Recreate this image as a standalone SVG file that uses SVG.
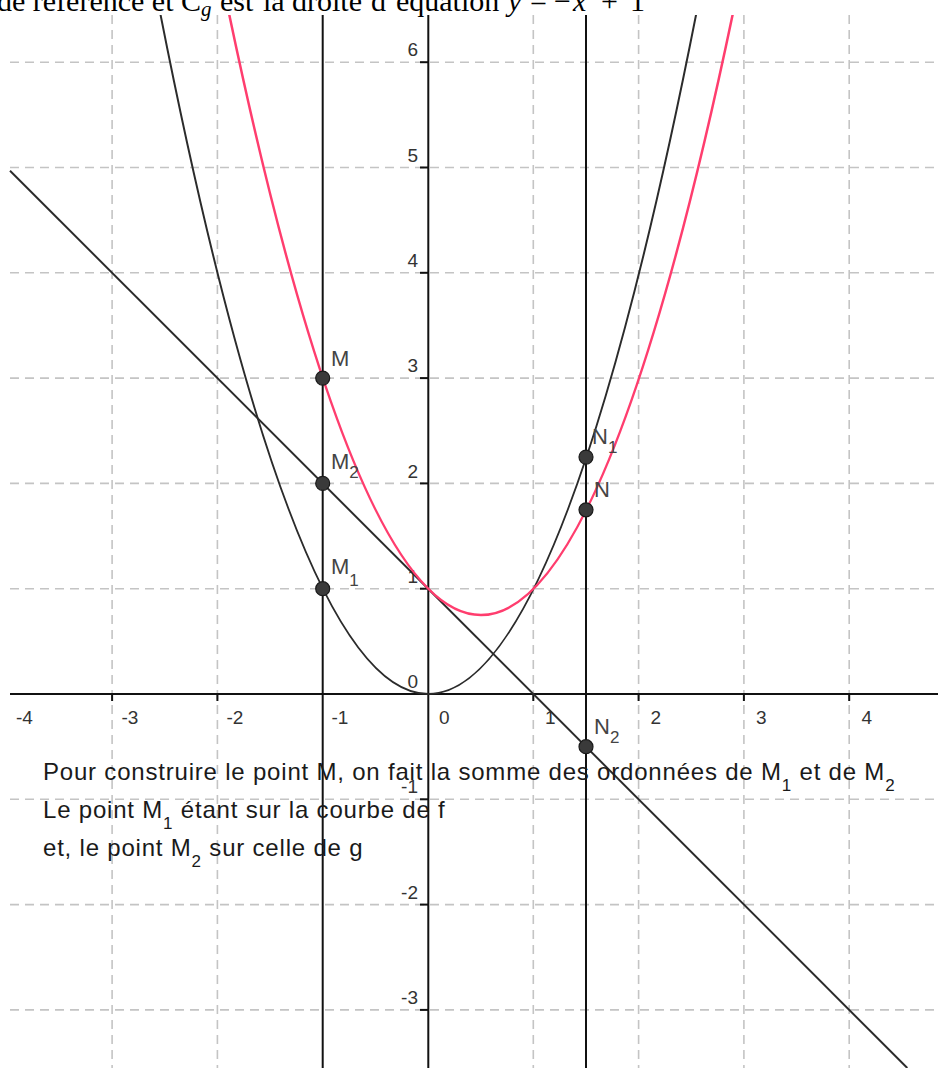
<svg xmlns="http://www.w3.org/2000/svg" width="938" height="1068" viewBox="0 0 938 1068">
<defs>
<style>
.grid{stroke:#c4c4c4;stroke-width:1.6;stroke-dasharray:9 6;fill:none}
.axis{stroke:#111;stroke-width:2;fill:none}
.tick{stroke:#111;stroke-width:2}
.curve{stroke:#2b2b2b;stroke-width:2;fill:none}
.pink{stroke:#ff3d6e;stroke-width:2.5;fill:none}
.vline{stroke:#111;stroke-width:2;fill:none}
.pt{fill:#3a3a3a;stroke:#1a1a1a;stroke-width:1.2}
.ax{font-family:"Liberation Sans",Arial,sans-serif;font-size:19px;fill:#333}
.axl{font-family:"Liberation Sans",Arial,sans-serif;font-size:19px;fill:#333;text-anchor:end}
.lbl{font-family:"Liberation Sans",Arial,sans-serif;font-size:22px;fill:#444}
.sub{font-size:17px}
.body{font-family:"Liberation Sans",Arial,sans-serif;font-size:24px;fill:#1a1a1a;letter-spacing:0.8px}
.title{font-family:"Liberation Serif","Times New Roman",serif;font-size:30px;fill:#000}
.it{font-style:italic}
</style>
<clipPath id="plot"><rect x="0" y="15" width="938" height="1053"/></clipPath>
</defs>
<rect width="938" height="1068" fill="#fff"/>

<g id="grid" class="grid">
<line x1="10" y1="62.2" x2="938" y2="62.2"/>
<line x1="10" y1="167.5" x2="938" y2="167.5"/>
<line x1="10" y1="272.8" x2="938" y2="272.8"/>
<line x1="10" y1="378.1" x2="938" y2="378.1"/>
<line x1="10" y1="483.4" x2="938" y2="483.4"/>
<line x1="10" y1="588.7" x2="938" y2="588.7"/>
<line x1="10" y1="799.3" x2="938" y2="799.3"/>
<line x1="10" y1="904.6" x2="938" y2="904.6"/>
<line x1="10" y1="1009.9" x2="938" y2="1009.9"/>
<line x1="112.1" y1="15" x2="112.1" y2="1068"/>
<line x1="217.4" y1="15" x2="217.4" y2="1068"/>
<line x1="533.3" y1="15" x2="533.3" y2="1068"/>
<line x1="638.6" y1="15" x2="638.6" y2="1068"/>
<line x1="743.9" y1="15" x2="743.9" y2="1068"/>
<line x1="849.2" y1="15" x2="849.2" y2="1068"/>
</g>

<g id="axes">
<line class="axis" x1="10" y1="694" x2="938" y2="694"/>
<line class="axis" x1="428.3" y1="15" x2="428.3" y2="1068"/>
<g class="tick">
<line x1="112.1" y1="694" x2="112.1" y2="701"/>
<line x1="217.4" y1="694" x2="217.4" y2="701"/>
<line x1="533.3" y1="694" x2="533.3" y2="701"/>
<line x1="638.6" y1="694" x2="638.6" y2="701"/>
<line x1="743.9" y1="694" x2="743.9" y2="701"/>
<line x1="849.2" y1="694" x2="849.2" y2="701"/>
<line x1="420" y1="62.2" x2="428" y2="62.2"/>
<line x1="420" y1="167.5" x2="428" y2="167.5"/>
<line x1="420" y1="272.8" x2="428" y2="272.8"/>
<line x1="420" y1="378.1" x2="428" y2="378.1"/>
<line x1="420" y1="483.4" x2="428" y2="483.4"/>
<line x1="420" y1="588.7" x2="428" y2="588.7"/>
<line x1="420" y1="799.3" x2="428" y2="799.3"/>
<line x1="420" y1="904.6" x2="428" y2="904.6"/>
<line x1="420" y1="1009.9" x2="428" y2="1009.9"/>
</g>
<text class="ax" x="16" y="724">-4</text>
<text class="ax" x="121.5" y="724">-3</text>
<text class="ax" x="226.5" y="724">-2</text>
<text class="ax" x="331.5" y="724">-1</text>
<text class="ax" x="439" y="724">0</text>
<text class="ax" x="545" y="724">1</text>
<text class="ax" x="650.5" y="724">2</text>
<text class="ax" x="756" y="724">3</text>
<text class="ax" x="861.5" y="724">4</text>
<text class="axl" x="418" y="56">6</text>
<text class="axl" x="418" y="161.5">5</text>
<text class="axl" x="418" y="267">4</text>
<text class="axl" x="418" y="372">3</text>
<text class="axl" x="418" y="477.5">2</text>
<text class="axl" x="418" y="582.5">1</text>
<text class="axl" x="418" y="688">0</text>
<text class="axl" x="418" y="793">-1</text>
<text class="axl" x="418" y="898.5">-2</text>
<text class="axl" x="418" y="1004">-3</text>
</g>

<g id="connectors" clip-path="url(#plot)">
<line id="line-x-m1" class="vline" x1="322.7" y1="15" x2="322.7" y2="1068"/>
<line id="line-x-1.5" class="vline" x1="586" y1="15" x2="586" y2="1068"/>
<path id="curve-f" class="curve" d="M154.2,-17.8 Q428.3,1405.8 702.4,-17.8"/>
<line id="line-g" class="curve" x1="10" y1="170.7" x2="907.3" y2="1068"/>
<path id="curve-fg" class="pink" d="M222.7,-17.04 Q480.95,1247.1 739.2,-17.04"/>
</g>

<g id="point-M"><circle class="pt" cx="322.7" cy="378.1" r="7"/><text class="lbl" x="331" y="366">M</text></g>
<g id="point-M2"><circle class="pt" cx="322.7" cy="483.4" r="7"/><text class="lbl" x="331" y="469">M<tspan class="sub" dy="9">2</tspan></text></g>
<g id="point-M1"><circle class="pt" cx="322.7" cy="588.7" r="7"/><text class="lbl" x="331" y="574">M<tspan class="sub" dy="12">1</tspan></text></g>
<g id="point-N1"><circle class="pt" cx="586" cy="457.1" r="7"/><text class="lbl" x="592" y="444">N<tspan class="sub" dy="9">1</tspan></text></g>
<g id="point-N"><circle class="pt" cx="586" cy="509.8" r="7"/><text class="lbl" x="594" y="497">N</text></g>
<g id="point-N2"><circle class="pt" cx="586" cy="746.7" r="7"/><text class="lbl" x="594" y="734">N<tspan class="sub" dy="9">2</tspan></text></g>

<g id="caption">
<text class="body" x="43" y="780">Pour construire le point M, on fait la somme des ordonnées de M<tspan class="sub" dy="11">1</tspan><tspan dy="-11"> et de M</tspan><tspan class="sub" dy="11">2</tspan></text>
<text class="body" x="43" y="818">Le point M<tspan class="sub" dy="11">1</tspan><tspan dy="-11"> étant sur la courbe de f</tspan></text>
<text class="body" x="43" y="856">et, le point M<tspan class="sub" dy="11">2</tspan><tspan dy="-11"> sur celle de g</tspan></text>
</g>

<g id="title">
<text class="title" x="-3" y="11">de référence et <tspan x="181">C</tspan><tspan class="it" font-size="21px" dy="5">g</tspan><tspan dy="-5" x="220">est</tspan><tspan x="263">la</tspan><tspan x="292">droite</tspan><tspan x="371">d’équation</tspan><tspan class="it" x="508">y</tspan><tspan x="530">=</tspan><tspan x="554">−</tspan><tspan class="it" x="573">x</tspan><tspan x="601">+</tspan><tspan x="630">1</tspan></text>
</g>
</svg>
